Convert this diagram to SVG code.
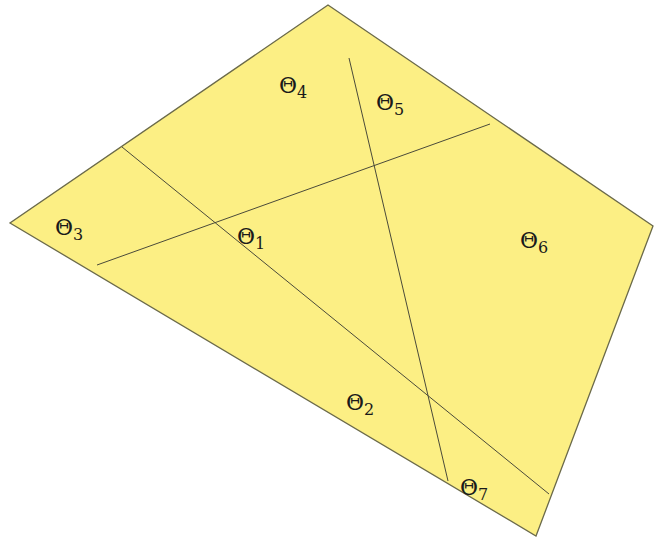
<svg xmlns="http://www.w3.org/2000/svg" width="655" height="541" viewBox="0 0 655 541">
<style>
.region{fill:#fcef84;stroke:#6b6a4a;stroke-width:1.3;stroke-linejoin:miter}
.cut{stroke:#4a4a3a;stroke-width:1;fill:none}
.lbl{font-family:"DejaVu Serif","Liberation Serif",serif;font-size:22px;fill:#1a1a1a}
.sub{font-size:16px}
</style>
<rect width="655" height="541" fill="#ffffff"/>
<g id="region">
<polygon class="region" points="328,5 653,226 536,536 10,223"/>
</g>
<g id="connectors">
<line class="cut" x1="122" y1="147" x2="549" y2="494"/>
<line class="cut" x1="97" y1="265" x2="490" y2="124"/>
<line class="cut" x1="349" y1="58" x2="448" y2="481"/>
</g>
<g id="theta1"><text class="lbl" x="237" y="244">Θ<tspan class="sub" dy="5">1</tspan></text></g>
<g id="theta2"><text class="lbl" x="346" y="410">Θ<tspan class="sub" dy="5">2</tspan></text></g>
<g id="theta3"><text class="lbl" x="55" y="235">Θ<tspan class="sub" dy="5">3</tspan></text></g>
<g id="theta4"><text class="lbl" x="279" y="93">Θ<tspan class="sub" dy="5">4</tspan></text></g>
<g id="theta5"><text class="lbl" x="376" y="110">Θ<tspan class="sub" dy="5">5</tspan></text></g>
<g id="theta6"><text class="lbl" x="520" y="248">Θ<tspan class="sub" dy="5">6</tspan></text></g>
<g id="theta7"><text class="lbl" x="460" y="495">Θ<tspan class="sub" dy="5">7</tspan></text></g>
</svg>
